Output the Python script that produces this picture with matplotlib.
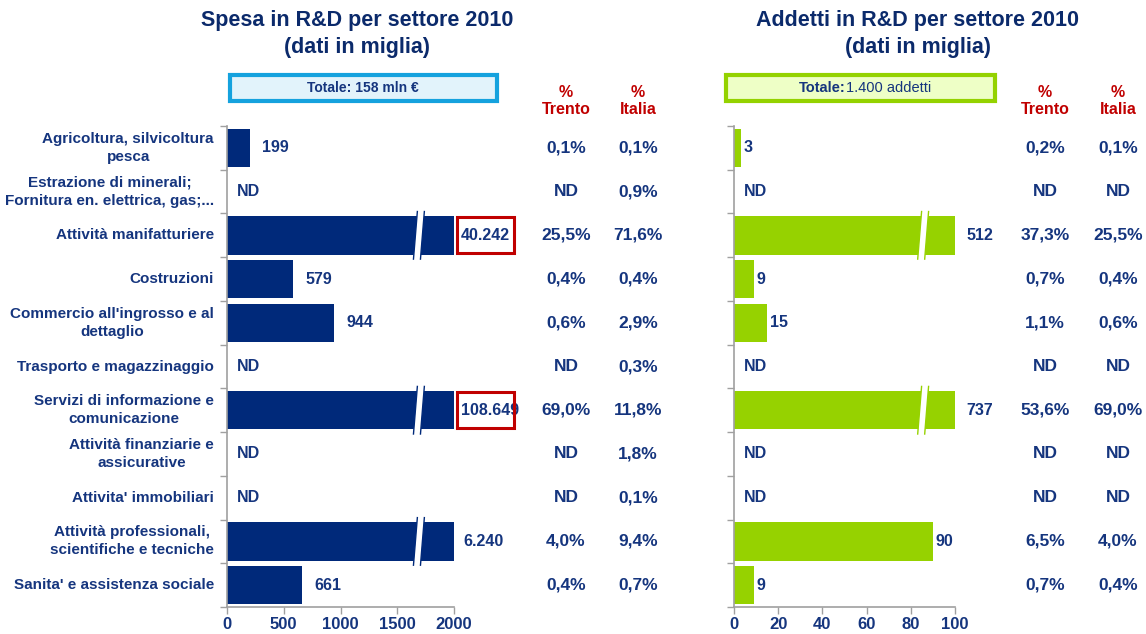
import matplotlib
matplotlib.use("Agg")
import matplotlib.pyplot as plt
from matplotlib.patches import Polygon, FancyBboxPatch, Rectangle
import numpy as np

plt.rcParams['font.family'] = ['Liberation Sans', 'DejaVu Sans']

# ---------------- data ----------------
categories = [
    "Agricoltura, silvicoltura\npesca",
    "Estrazione di minerali;\nFornitura en. elettrica, gas;...",
    "Attività manifatturiere",
    "Costruzioni",
    "Commercio all'ingrosso e al\ndettaglio",
    "Trasporto e magazzinaggio",
    "Servizi di informazione e\ncomunicazione",
    "Attività finanziarie e\nassicurative",
    "Attivita' immobiliari",
    "Attività professionali,\nscientifiche e tecniche",
    "Sanita' e assistenza sociale",
]
spesa = [199, None, 40242, 579, 944, None, 108649, None, None, 6240, 661]
spesa_trento = ["0,1%", "ND", "25,5%", "0,4%", "0,6%", "ND", "69,0%", "ND", "ND", "4,0%", "0,4%"]
spesa_italia = ["0,1%", "0,9%", "71,6%", "0,4%", "2,9%", "0,3%", "11,8%", "1,8%", "0,1%", "9,4%", "0,7%"]
spesa_boxed = [False, False, True, False, False, False, True, False, False, False, False]

addetti = [3, None, 512, 9, 15, None, 737, None, None, 90, 9]
addetti_trento = ["0,2%", "ND", "37,3%", "0,7%", "1,1%", "ND", "53,6%", "ND", "ND", "6,5%", "0,7%"]
addetti_italia = ["0,1%", "ND", "25,5%", "0,4%", "0,6%", "ND", "69,0%", "ND", "ND", "4,0%", "0,4%"]

spesa_ticks = [0, 500, 1000, 1500, 2000]
addetti_ticks = [0, 20, 40, 60, 80, 100]

# ---------------- style ----------------
W, H = 1146, 634
NAVY_BAR = '#00297A'
GREEN = '#96D200'
TXT = '#15357E'
RED = '#C00000'
GRAY = '#A0A0A0'
TOP_PX, BOT_PX = 126, 607
ROW = (BOT_PX - TOP_PX) / 11

fig = plt.figure(figsize=(W / 100, H / 100), dpi=100)


def fx(px):
    return px / W


def fy(py):
    return 1 - py / H


def fmt_it(v):
    return f"{v:,}".replace(",", ".")


boxed_texts = []


def make_panel(left_px, right_px, values, xmax, ticks, color, break_frac, lab_off, lab_off_clip,
               boxed=None):
    ax = fig.add_axes([fx(left_px), fy(BOT_PX), fx(right_px - left_px), (BOT_PX - TOP_PX) / H])
    n = len(values)
    y = np.arange(n)
    vals = [0 if v is None else min(v, xmax) for v in values]
    ax.barh(y, vals, height=0.88, color=color, zorder=2)
    ax.set_xlim(0, xmax)
    ax.set_ylim(n - 0.5, -0.5)
    ax.set_xticks(ticks)
    ax.set_xticklabels([str(t) for t in ticks], fontsize=12, fontweight='bold', color=TXT)
    ax.set_yticks(np.arange(n + 1) - 0.5)
    ax.set_yticklabels([])
    ax.tick_params(axis='y', length=5, width=1, color=GRAY, direction='out')
    ax.tick_params(axis='x', length=5, width=1, color=GRAY, direction='out', pad=2)
    for s in ['top', 'right']:
        ax.spines[s].set_visible(False)
    for s in ['left', 'bottom']:
        ax.spines[s].set_color(GRAY)
        ax.spines[s].set_linewidth(1.2)
    ax.set_facecolor('none')

    px_per_unit = (right_px - left_px) / xmax
    bx = break_frac * xmax
    gap = 7 / px_per_unit
    slant = 2.0 / px_per_unit
    for i, v in enumerate(values):
        if v is None:
            ax.annotate("ND", xy=(0, i), xytext=(7, 0), textcoords='offset points',
                        ha='left', va='center', fontsize=11.5, fontweight='bold', color=TXT)
            continue
        clipped = v > xmax
        if clipped:
            yt, yb = i - 0.56, i + 0.56
            poly = Polygon([(bx + slant, yt), (bx + slant + gap, yt),
                            (bx - slant + gap, yb), (bx - slant, yb)],
                           closed=True, facecolor='white', edgecolor='none', zorder=3)
            ax.add_patch(poly)
            ax.plot([bx + slant, bx - slant], [yt, yb], color=color, lw=1, zorder=4,
                    solid_capstyle='butt')
            ax.plot([bx + slant + gap, bx - slant + gap], [yt, yb], color=color, lw=1,
                    zorder=4, solid_capstyle='butt')
        isbox = boxed is not None and boxed[i]
        off = lab_off_clip if clipped else lab_off
        if isbox:
            off = 5
        t = ax.annotate(fmt_it(v), xy=(vals[i], i), xytext=(off, 0), textcoords='offset points',
                        ha='left', va='center', fontsize=11.5, fontweight='bold', color=TXT,
                        annotation_clip=False, zorder=5)
        if isbox:
            boxed_texts.append(t)
    return ax


ax1 = make_panel(227, 454, spesa, 2000, spesa_ticks, NAVY_BAR, 0.83, 9, 7, boxed=spesa_boxed)
ax2 = make_panel(734, 955, addetti, 100, addetti_ticks, GREEN, 0.84, 2, 8)

# category labels
for i, c in enumerate(categories):
    yc = TOP_PX + ROW * (i + 0.5)
    fig.text(fx(214), fy(yc), c, ha='right', va='center', multialignment='center',
             fontsize=11, fontweight='bold', color=TXT, linespacing=1.35)


# percentage columns
def pct_col(xc, vals):
    for i, v in enumerate(vals):
        yc = TOP_PX + ROW * (i + 0.5)
        fig.text(fx(xc), fy(yc), v, ha='center', va='center', fontsize=12.5, fontweight='bold',
                 color=TXT)


pct_col(566, spesa_trento)
pct_col(638, spesa_italia)
pct_col(1045, addetti_trento)
pct_col(1118, addetti_italia)

for xc, lab in [(566, "%\nTrento"), (638, "%\nItalia"), (1045, "%\nTrento"), (1118, "%\nItalia")]:
    fig.text(fx(xc), fy(101), lab, ha='center', va='center', fontsize=11.5, fontweight='bold',
             color=RED, linespacing=1.2)

# titles
fig.text(fx(357), fy(34), "Spesa in R&D per settore 2010\n(dati in miglia)", ha='center',
         va='center', fontsize=15.5, fontweight='bold', color='#0B2A6B', linespacing=1.4)
fig.text(fx(918), fy(34), "Addetti in R&D per settore 2010\n(dati in miglia)", ha='center',
         va='center', fontsize=15.5, fontweight='bold', color='#0B2A6B', linespacing=1.4)


# totale boxes
def total_box(x0, x1, y0, y1, fc, ec):
    p = FancyBboxPatch((fx(x0), fy(y1)), fx(x1 - x0), (y1 - y0) / H,
                       boxstyle='square,pad=0', facecolor=fc, edgecolor=ec, linewidth=3,
                       transform=fig.transFigure, figure=fig)
    fig.patches.append(p)


total_box(230, 497, 75, 101, '#E2F3FB', '#15A2DE')
fig.text(fx(363), fy(88), "Totale: 158 mln €", ha='center', va='center', fontsize=10,
         fontweight='bold', color=TXT)
total_box(726, 995, 75, 101, '#EEFFC6', '#94D200')
fig.text(fx(846), fy(88), "Totale:", ha='right', va='center', fontsize=10.5,
         fontweight='bold', color=TXT)
fig.text(fx(846), fy(88), "1.400 addetti", ha='left', va='center', fontsize=10.5,
         color=TXT)

# red boxes around the clipped values (sized from rendered text)
fig.canvas.draw()
renderer = fig.canvas.get_renderer()
for t in boxed_texts:
    bb = t.get_window_extent(renderer)
    cy = (bb.y0 + bb.y1) / 2
    x0 = bb.x0 - 4
    w = 57
    h = 36
    r = Rectangle((x0 / W, (cy - h / 2) / H), w / W, h / H, transform=fig.transFigure,
                  facecolor='none', edgecolor=RED, linewidth=2.2, zorder=6)
    fig.patches.append(r)

fig.savefig("out.png", dpi=100)
